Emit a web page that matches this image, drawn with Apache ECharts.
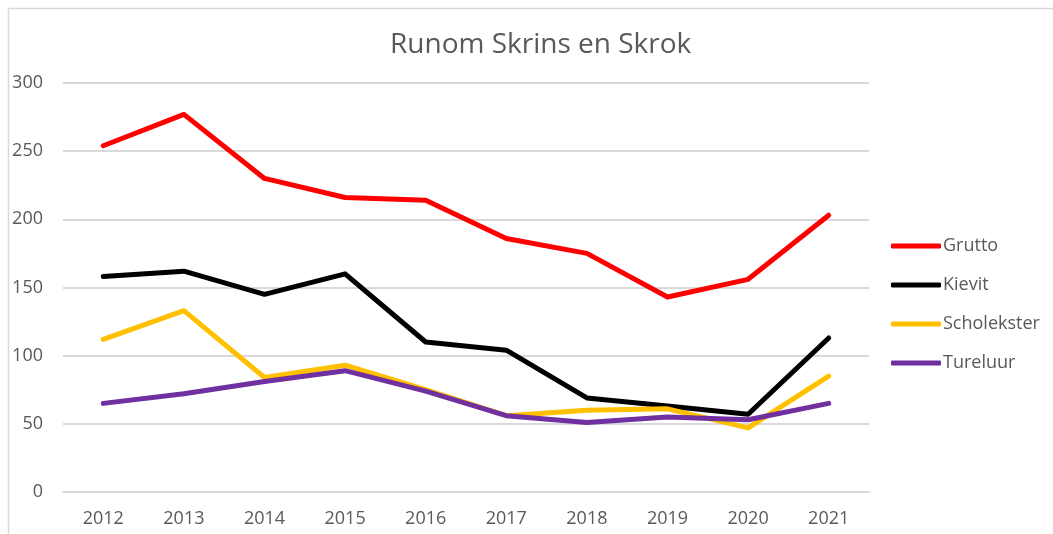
<!DOCTYPE html>
<html>
<head>
<meta charset="utf-8">
<script src="https://cdn.jsdelivr.net/npm/echarts@6/dist/echarts.min.js"></script>
<style>
  html, body { margin: 0; padding: 0; background: #fff; }
  #chart { width: 1053px; height: 534px; }
</style>
</head>
<body>
<div id="chart"></div>
<script>
var years = ['2012', '2013', '2014', '2015', '2016', '2017', '2018', '2019', '2020', '2021'];
var grutto = [254, 277, 230, 216, 214, 186, 175, 143, 156, 203];
var kievit = [158, 162, 145, 160, 110, 104, 69, 63, 57, 113];
var scholekster = [112, 133, 84, 93, 75, 56, 60, 61, 47, 85];
var tureluur = [65, 72, 81, 89, 74, 56, 51, 55, 53, 65];

var font = '"Open Sans", "Noto Sans", sans-serif';
var chart = echarts.init(document.getElementById('chart'));

function line(name, data, color) {
  return {
    name: name,
    type: 'line',
    data: data,
    showSymbol: false,
    symbol: 'none',
    color: color,
    lineStyle: { width: 5, color: color, cap: 'round', join: 'round' }
  };
}

chart.setOption({
  animation: false,
  backgroundColor: '#fff',
  graphic: [{
    type: 'rect',
    shape: { x: 8.5, y: 8.5, width: 1100, height: 600 },
    style: { fill: 'none', stroke: '#d9d9d9', lineWidth: 1.5 },
    silent: true
  }],
  title: {
    text: 'Runom Skrins en Skrok',
    left: 385,
    top: 26,
    textStyle: { fontFamily: font, fontSize: 28, fontWeight: 'normal', color: '#595959' }
  },
  legend: {
    orient: 'vertical',
    left: 886,
    top: 232,
    itemWidth: 50,
    itemHeight: 5,
    itemGap: 21,
    icon: 'roundRect',
    textStyle: { fontFamily: font, fontSize: 18, color: '#595959', padding: [0, 0, 0, -3] },
    data: ['Grutto', 'Kievit', 'Scholekster', 'Tureluur']
  },
  grid: { left: 63, right: 184, top: 83, bottom: 42 },
  xAxis: {
    type: 'category',
    data: years,
    boundaryGap: true,
    axisLine: { lineStyle: { color: '#d9d9d9', width: 2 } },
    axisTick: { show: false },
    axisLabel: { fontFamily: font, fontSize: 18, color: '#595959', margin: 18 }
  },
  yAxis: {
    type: 'value',
    min: 0,
    max: 300,
    interval: 50,
    axisLine: { show: false },
    axisTick: { show: false },
    splitLine: { lineStyle: { color: '#d9d9d9', width: 2 } },
    axisLabel: { fontFamily: font, fontSize: 18, color: '#595959', margin: 20 }
  },
  series: [
    line('Grutto', grutto, '#ff0000'),
    line('Kievit', kievit, '#000000'),
    line('Scholekster', scholekster, '#ffc000'),
    line('Tureluur', tureluur, '#7030a0')
  ]
});
</script>
</body>
</html>
